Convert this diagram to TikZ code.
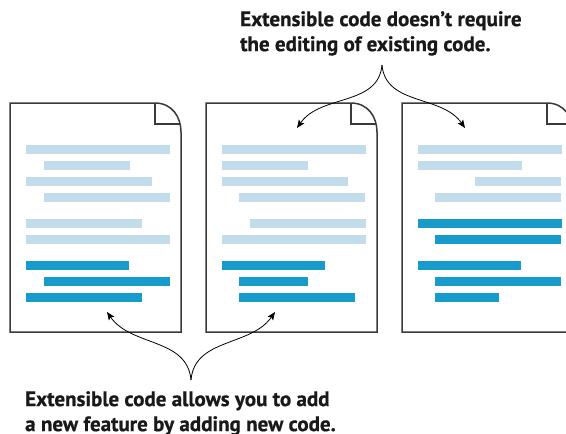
\documentclass[tikz,border=0pt]{standalone}
\usepackage{fontspec}
\setmainfont{PT Sans}[BoldFeatures={FakeBold=0.6}]
\usepackage{xcolor}
\definecolor{pageline}{HTML}{3A3A3A}
\definecolor{barpale}{HTML}{C2DCEC}
\definecolor{barblue}{HTML}{169BCB}
\usetikzlibrary{arrows.meta,positioning}
\tikzset{
  docpage/.style={draw=pageline, line width=1.5pt, line join=miter},
  barlight/.style={fill=barpale},
  bardark/.style={fill=barblue},
  annot/.style={align=left, inner sep=0pt, text=black!90,
                font=\bfseries\fontsize{21}{25}\selectfont},
  ar/.style={-{Stealth[length=8pt,width=6.5pt,inset=1.5pt]}, draw=black, line width=0.8pt},
}
\begin{document}
\begin{tikzpicture}[x=1pt, y=-1pt]
  \clip (0,0) rectangle (566,434);
  \fill[white] (0,0) rectangle (566,434);
  % the three pages
  \foreach \px in {10,206,402}{
    \draw[docpage] ({\px+145},103) -- (\px,103) -- (\px,332) -- ({\px+171},332)
      -- ({\px+171},132) .. controls ({\px+171},117) and ({\px+162},103) .. ({\px+145},103);
    \draw[docpage] ({\px+145},103) -- ({\px+145},124) -- ({\px+170},124);
  }
  % code lines
  \foreach \xa/\xb/\yt/\sty in {26/170/145/barlight, 44/130/161/barlight, 26/152/177/barlight,
      44/170/193/barlight, 26/142/219/barlight, 26/170/235/barlight,
      26/129/261/bardark, 44/170/277/bardark, 26/142/293/bardark,
      222/366/145/barlight, 222/308/161/barlight, 222/348/177/barlight,
      239/365/193/barlight, 250/366/219/barlight, 222/366/235/barlight,
      222/325/261/bardark, 239/308/277/bardark, 239/355/293/bardark,
      418/562/145/barlight, 418/522/161/barlight, 475/561/177/barlight,
      435/561/193/barlight, 418/562/219/bardark, 435/561/235/bardark,
      418/521/261/bardark, 435/561/277/bardark, 435/499/293/bardark}
    \fill[\sty] (\xa,\yt) rectangle (\xb,\yt+9);
  % labels
  \node[annot, anchor=north west] (toptext) at (240,11)
    {Extensible code doesn’t require\\the editing of existing code.};
  \node[annot, anchor=north west] (bottext) at (25,391)
    {Extensible code allows you to add\\a new feature by adding new code.};
  \coordinate (topfork) at (382,65);
  \coordinate (pagetwotop) at (297,128);
  \coordinate (pagethreetop) at (465,128);
  \coordinate (botfork) at (191,380);
  \coordinate (pageonebot) at (107,312);
  \coordinate (pagetwobot) at (275,312);
  \draw[ar] (topfork) to[out=265, in=55] (pagetwotop);
  \draw[ar] (topfork) to[out=275, in=125] (pagethreetop);
  \draw[ar] (botfork) to[out=95, in=305] (pageonebot);
  \draw[ar] (botfork) to[out=85, in=235] (pagetwobot);
\end{tikzpicture}
\end{document}
